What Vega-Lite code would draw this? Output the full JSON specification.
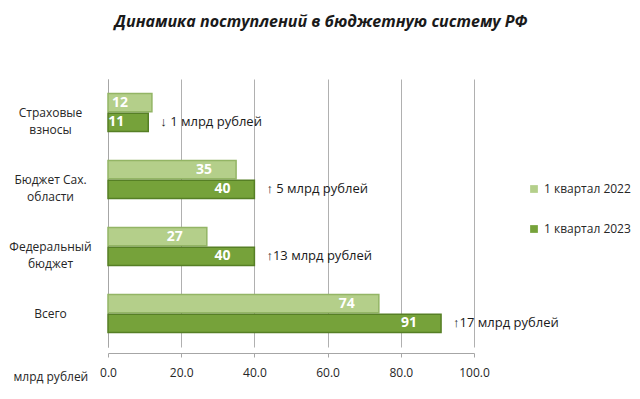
{
  "$schema": "https://vega.github.io/schema/vega-lite/v6.json",
  "autosize": "none",
  "width": 366,
  "height": 268,
  "padding": {"left": 108, "top": 79, "right": 166, "bottom": 52},
  "background": "white",
  "title": {
    "text": "Динамика поступлений в бюджетную систему РФ",
    "font": "Open Sans",
    "fontSize": 16,
    "fontStyle": "italic",
    "fontWeight": "bold",
    "color": "#1a1a1a",
    "anchor": "middle",
    "dx": 30,
    "offset": 49
  },
  "config": {
    "view": {"stroke": null},
    "font": "Open Sans",
    "axis": {"labelFont": "Open Sans", "titleFont": "Open Sans"},
    "legend": {"labelFont": "Open Sans"}
  },
  "data": {
    "values": [
      {"cat": "Страховые взносы", "year": "1 квартал 2022", "value": 12, "note": ""},
      {"cat": "Страховые взносы", "year": "1 квартал 2023", "value": 11, "note": "↓ 1  млрд рублей"},
      {"cat": "Бюджет Сах. области", "year": "1 квартал 2022", "value": 35, "note": ""},
      {"cat": "Бюджет Сах. области", "year": "1 квартал 2023", "value": 40, "note": "↑ 5 млрд  рублей"},
      {"cat": "Федеральный бюджет", "year": "1 квартал 2022", "value": 27, "note": ""},
      {"cat": "Федеральный бюджет", "year": "1 квартал 2023", "value": 40, "note": "↑13 млрд  рублей"},
      {"cat": "Всего", "year": "1 квартал 2022", "value": 74, "note": ""},
      {"cat": "Всего", "year": "1 квартал 2023", "value": 91, "note": "↑17  млрд рублей"}
    ]
  },
  "encoding": {
    "y": {
      "field": "cat",
      "type": "nominal",
      "sort": ["Страховые взносы", "Бюджет Сах. области", "Федеральный бюджет", "Всего"],
      "scale": {"paddingInner": 0.43, "paddingOuter": 0.215},
      "axis": {
        "title": null,
        "ticks": false,
        "domainColor": "#a6a6a6",
        "labelAlign": "center",
        "labelPadding": 58,
        "labelFontSize": 12,
        "labelColor": "#262626",
        "labelLineHeight": 17,
        "labelExpr": "datum.label == 'Страховые взносы' ? ['Страховые', 'взносы'] : datum.label == 'Бюджет Сах. области' ? ['Бюджет Сах.', 'области'] : datum.label == 'Федеральный бюджет' ? ['Федеральный', 'бюджет'] : datum.label"
      }
    },
    "yOffset": {
      "field": "year",
      "type": "nominal",
      "scale": {"paddingInner": 0.08}
    },
    "x": {
      "field": "value",
      "type": "quantitative",
      "scale": {"domain": [0, 100]},
      "axis": {
        "values": [0, 20, 40, 60, 80, 100],
        "format": ".1f",
        "labelFlush": false,
        "title": "млрд рублей",
        "titleFontSize": 12,
        "titleFontWeight": "normal",
        "titleColor": "#262626",
        "titleAnchor": "start",
        "titleAlign": "left",
        "titleBaseline": "top",
        "titleX": -95,
        "titleY": 18,
        "labelFontSize": 12,
        "labelColor": "#262626",
        "labelPadding": 10,
        "domainColor": "#a6a6a6",
        "tickColor": "#a6a6a6",
        "tickSize": 4,
        "offset": 6,
        "grid": true,
        "gridColor": "#b0b0b0"
      }
    }
  },
  "layer": [
    {
      "mark": {"type": "bar", "strokeWidth": 1.5},
      "encoding": {
        "color": {
          "field": "year",
          "type": "nominal",
          "scale": {"domain": ["1 квартал 2022", "1 квартал 2023"], "range": ["#b4cf8a", "#76a23a"]},
          "legend": {
            "title": null,
            "orient": "none",
            "legendX": 420,
            "legendY": 104,
            "symbolType": "square",
            "symbolSize": 60,
            "symbolStrokeWidth": 0,
            "labelFontSize": 12,
            "labelColor": "#262626",
            "rowPadding": 28
          }
        },
        "stroke": {
          "field": "year",
          "type": "nominal",
          "scale": {"domain": ["1 квартал 2022", "1 квартал 2023"], "range": ["#93b565", "#567f25"]},
          "legend": null
        }
      }
    },
    {
      "mark": {"type": "text", "align": "right", "baseline": "middle", "dx": -24, "fontSize": 14, "fontWeight": "bold", "color": "white"},
      "encoding": {"text": {"field": "value", "type": "quantitative"}}
    },
    {
      "mark": {"type": "text", "align": "left", "baseline": "middle", "dx": 12, "fontSize": 13, "color": "#1a1a1a"},
      "encoding": {"text": {"field": "note", "type": "nominal"}}
    }
  ]
}
